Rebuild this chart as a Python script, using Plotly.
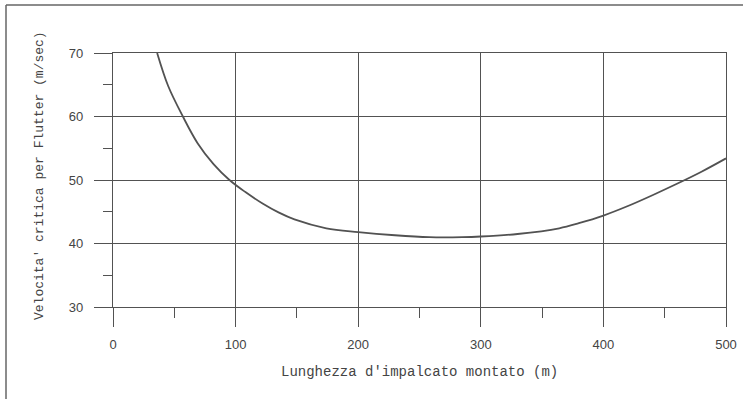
import plotly.graph_objects as go

# Data
lunghezza = [36, 45, 57, 69, 82, 95, 108, 122, 135, 148, 174, 200, 230, 258, 285, 300, 330, 364, 380, 400, 420, 440, 460, 480, 500]
velocita = [70, 64.8, 60, 55.8, 52.5, 50, 48.1, 46.3, 44.9, 43.8, 42.4, 41.8, 41.3, 41.0, 41.0, 41.1, 41.5, 42.4, 43.2, 44.4, 45.9, 47.6, 49.4, 51.3, 53.4]

x_ticks = [0, 100, 200, 300, 400, 500]
y_ticks = [30, 40, 50, 60, 70]

x_title = "Lunghezza d'impalcato montato (m)"
y_title = "Velocita' critica per Flutter (m/sec)"

ink = "#525252"
text_ink = "#444444"

fig = go.Figure()
fig.add_trace(go.Scatter(
    x=lunghezza, y=velocita, mode="lines",
    line=dict(color=ink, width=1.8, shape="spline", smoothing=1.0),
    showlegend=False, hoverinfo="skip",
))

W, H = 743, 400
L, R, T, B = 113, 17, 53, 93
pw, ph = W - L - R, H - T - B


def px_x(p):
    return (p - L) / pw


def px_y(p):
    return (H - B - p) / ph


fig.update_layout(
    width=W, height=H,
    margin=dict(l=L, r=R, t=T, b=B),
    paper_bgcolor="white", plot_bgcolor="white",
    font=dict(family="Liberation Sans, Arial, sans-serif", color=text_ink, size=13),
)

fig.update_xaxes(
    range=[0, 500], tickvals=x_ticks, ticktext=[str(v) for v in x_ticks],
    showgrid=True, gridcolor=ink, gridwidth=1.3,
    showline=True, mirror=True, linecolor=ink, linewidth=1.3,
    ticks="outside", ticklen=19, tickcolor=ink, tickwidth=1.3,
    ticklabelstandoff=6,
    minor=dict(tickvals=[50, 150, 250, 350, 450], ticks="outside", ticklen=10,
               tickcolor=ink, tickwidth=1.3, showgrid=False),
    zeroline=False, automargin=False,
)
fig.update_yaxes(
    range=[30, 70], tickvals=y_ticks, ticktext=[str(v) for v in y_ticks],
    showgrid=True, gridcolor=ink, gridwidth=1.3,
    showline=True, mirror=True, linecolor=ink, linewidth=1.3,
    ticks="outside", ticklen=18, tickcolor=ink, tickwidth=1.3,
    ticklabelstandoff=8,
    minor=dict(tickvals=[35, 45, 55, 65], ticks="outside", ticklen=9,
               tickcolor=ink, tickwidth=1.3, showgrid=False),
    zeroline=False, automargin=False,
)

mono = "Liberation Mono, DejaVu Sans Mono, monospace"
fig.add_annotation(text=x_title, xref="paper", yref="paper",
                   x=px_x(420), y=px_y(372), xanchor="center", yanchor="middle",
                   showarrow=False, font=dict(family=mono, size=14, color=text_ink))
fig.add_annotation(text=y_title, xref="paper", yref="paper", textangle=-90,
                   x=px_x(39), y=px_y(176), xanchor="center", yanchor="middle",
                   showarrow=False, font=dict(family=mono, size=13, color=text_ink))

# Outer scanned frame (top and left edges)
fig.add_shape(type="line", xref="paper", yref="paper",
              x0=px_x(6), x1=px_x(743), y0=px_y(5), y1=px_y(5),
              line=dict(color="#666666", width=1.5))
fig.add_shape(type="line", xref="paper", yref="paper",
              x0=px_x(6), x1=px_x(6), y0=px_y(5), y1=px_y(399),
              line=dict(color="#666666", width=1.5))

fig.write_html("out.html", config={"displayModeBar": False},
               post_script="document.body.style.margin='0px';document.body.style.overflow='hidden';")
